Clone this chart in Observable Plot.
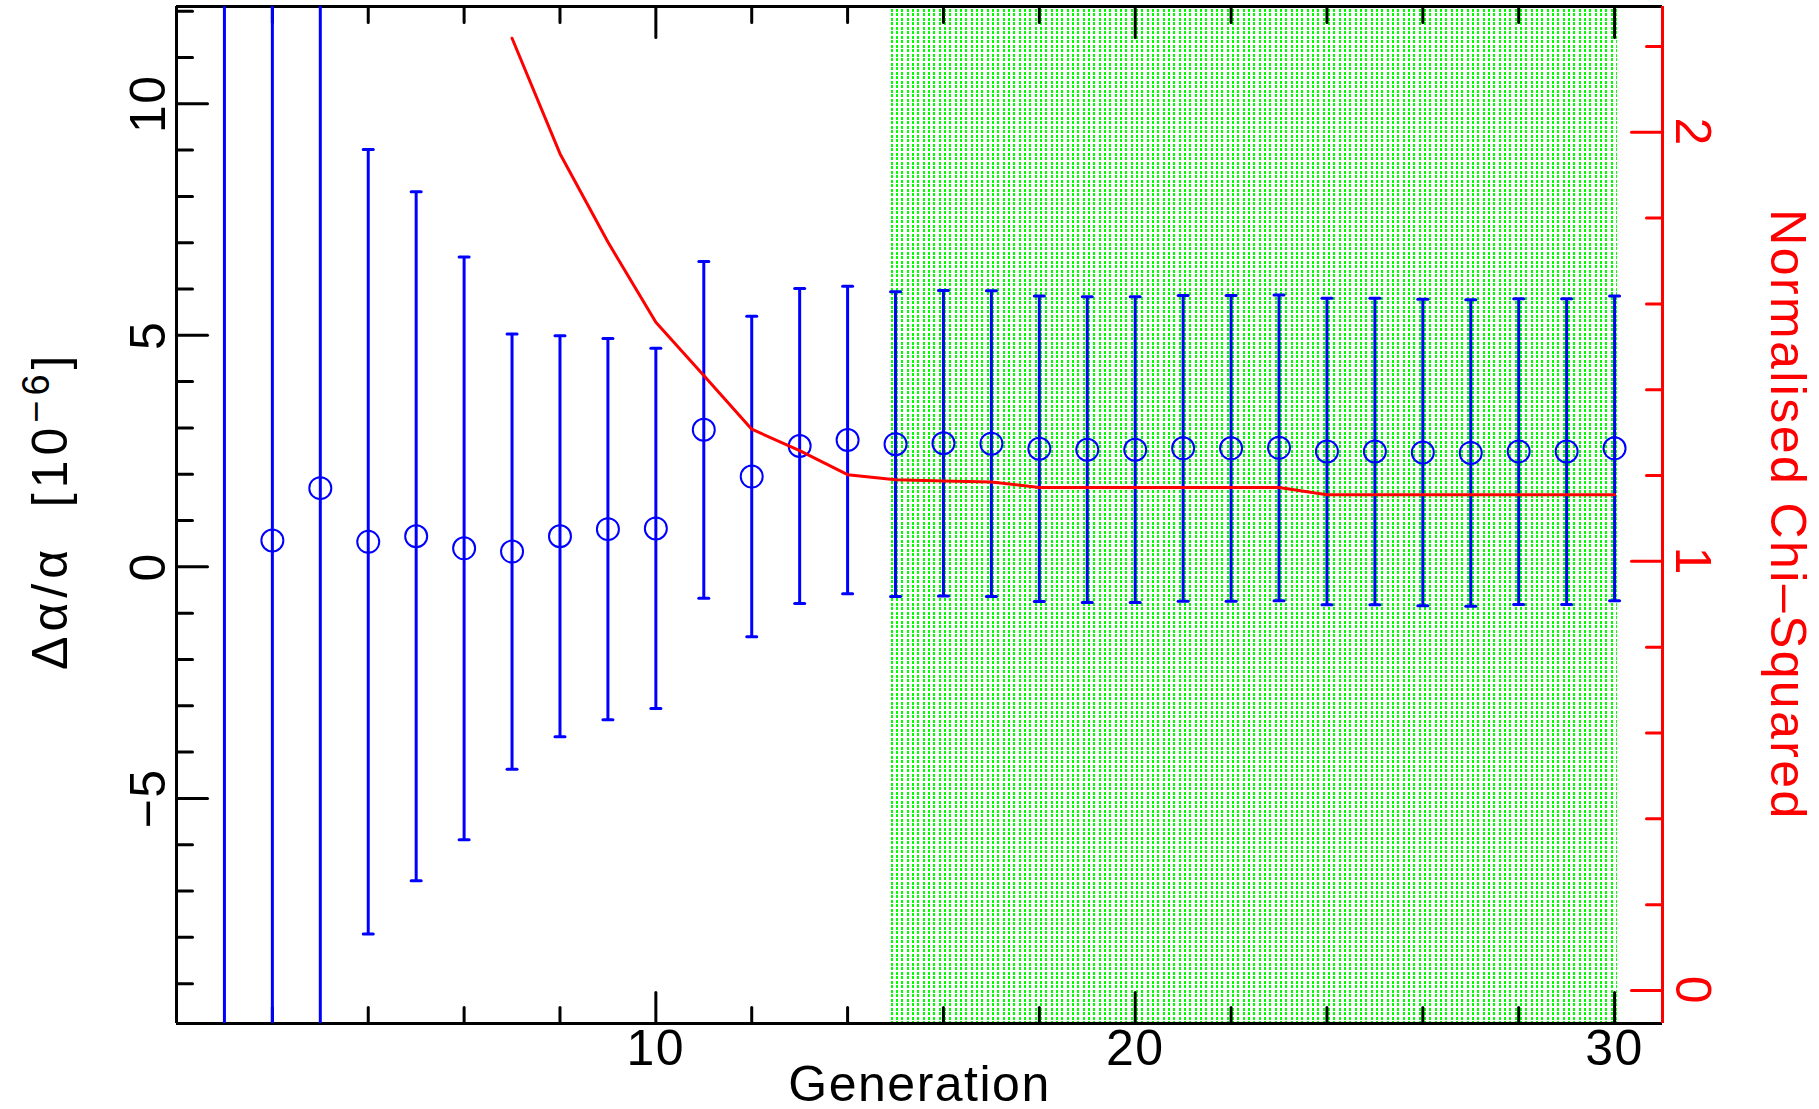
<!DOCTYPE html>
<html>
<head>
<meta charset="utf-8">
<script src="https://cdn.jsdelivr.net/npm/d3@7"></script>
<script src="https://cdn.jsdelivr.net/npm/@observablehq/plot@0.6"></script>
<style>
  html, body { margin: 0; padding: 0; background: #fff; overflow: hidden; }
  #chart svg text { letter-spacing: 1.5px; }
</style>
</head>
<body>
<div id="chart"></div>
<script>
// Generations of the fit
const generations = [1, 2, 3, 4, 5, 6, 7, 8, 9, 10, 11, 12, 13, 14, 15,
                     16, 17, 18, 19, 20, 21, 22, 23, 24, 25, 26, 27, 28, 29, 30];

// Δα/α best-fit value per generation (units of 1e-6); generation 1 lies above the plotted range
const deltaAlpha = [15.0, 0.57, 1.70, 0.54, 0.66, 0.40, 0.33, 0.66, 0.815, 0.83,
                    2.96, 1.95, 2.61, 2.74, 2.65, 2.67, 2.66, 2.55, 2.53, 2.53,
                    2.56, 2.56, 2.57, 2.49, 2.49, 2.47, 2.46, 2.49, 2.49, 2.56];

// 1-sigma uncertainty on Δα/α (units of 1e-6)
const deltaAlphaErr = [40, 30, 20, 8.47, 7.44, 6.29, 4.70, 4.33, 4.115, 3.89,
                       3.635, 3.46, 3.40, 3.32, 3.29, 3.30, 3.30, 3.30, 3.30, 3.30,
                       3.30, 3.30, 3.30, 3.31, 3.31, 3.31, 3.31, 3.30, 3.30, 3.29];

// Normalised chi-squared of the fit (only from generation 7 onwards)
const chiSquared = [null, null, null, null, null, null,
                    2.219, 1.950, 1.744, 1.557, 1.433, 1.308, 1.258, 1.202,
                    1.190, 1.187, 1.185, 1.172, 1.172, 1.172, 1.172, 1.172, 1.172,
                    1.155, 1.155, 1.155, 1.155, 1.155, 1.155, 1.155];

// Generations highlighted as the converged regime
const convergedRange = [[14.87, 30.06]];

// Axis extents and ticks
const xDomain = [0, 31];
const yDomain = [-9.86, 12.10];
const chiDomain = [-0.077, 2.293];

const xMajorTicks = [10, 20, 30];
const xMinorTicks = [2, 4, 6, 8, 12, 14, 16, 18, 22, 24, 26, 28];
const yMajorTicks = [-5, 0, 5, 10];
const yMinorTicks = [-9, -8, -7, -6, -4, -3, -2, -1, 1, 2, 3, 4, 6, 7, 8, 9, 11, 12];
const chiMajorTicks = [0, 1, 2];
const chiMinorTicks = [0.2, 0.4, 0.6, 0.8, 1.2, 1.4, 1.6, 1.8, 2.2];

const rows = generations.map((g, i) => ({
  gen: g,
  delta: deltaAlpha[i],
  err: deltaAlphaErr[i],
  chi: chiSquared[i]
}));

// The chi-squared axis shares the plot height: map its values onto the Δα/α scale
const chiToY = d3.scaleLinear().domain(chiDomain).range(yDomain);

const fmt = d => (d < 0 ? "\u2212" + Math.abs(d) : String(d));

// Inward-pointing tick marks and error-bar caps
const tickShape = { draw(ctx, l) { ctx.moveTo(0, 0); ctx.lineTo(0, -l); } };
const capSymbol = { draw(ctx) { ctx.moveTo(-5, 0); ctx.lineTo(5, 0); } };
const MAJOR = 31, MINOR = 16;

const ticks = (values, len, opts) =>
  Plot.vector(values, { length: len, anchor: "start", shape: tickShape, strokeWidth: 3, ...opts });

// centred text regardless of the frame anchor used to place it
const label = (data, opts) =>
  Plot.text(data, { textAnchor: "middle", lineAnchor: "middle", ...opts });

const svg = Plot.plot({
  width: 1819,
  height: 1109,
  marginLeft: 176,
  marginRight: 157,
  marginTop: 6,
  marginBottom: 86,
  x: { domain: xDomain, axis: null },
  y: { domain: yDomain, axis: null },
  style: {
    fontFamily: "'Liberation Sans', Arial, sans-serif",
    fontSize: "50px",
    background: "white",
    color: "black",
    overflow: "visible"
  },
  marks: [
    // shaded converged region
    Plot.rect(convergedRange, { x1: d => d[0], x2: d => d[1], fill: "url(#green-dots)" }),

    // bottom and top ticks
    ticks(xMajorTicks, MAJOR, { x: d => d, frameAnchor: "bottom", rotate: 0, stroke: "black" }),
    ticks(xMinorTicks, MINOR, { x: d => d, frameAnchor: "bottom", rotate: 0, stroke: "black" }),
    ticks(xMajorTicks, MAJOR, { x: d => d, frameAnchor: "top", rotate: 180, stroke: "black" }),
    ticks(xMinorTicks, MINOR, { x: d => d, frameAnchor: "top", rotate: 180, stroke: "black" }),
    // left ticks
    ticks(yMajorTicks, MAJOR, { y: d => d, frameAnchor: "left", rotate: 90, stroke: "black" }),
    ticks(yMinorTicks, MINOR, { y: d => d, frameAnchor: "left", rotate: 90, stroke: "black" }),

    // frame
    Plot.ruleY([yDomain[0], yDomain[1]], { stroke: "black", strokeWidth: 3 }),
    Plot.ruleX([xDomain[0]], { stroke: "black", strokeWidth: 3 }),

    // error bars, caps and best-fit values
    Plot.ruleX(rows, { x: "gen", y1: d => d.delta - d.err, y2: d => d.delta + d.err,
                       stroke: "#0000ff", strokeWidth: 3, clip: true }),
    Plot.dot(rows, { x: "gen", y: d => d.delta + d.err, symbol: capSymbol, fill: "none",
                     stroke: "#0000ff", strokeWidth: 3, strokeLinecap: "round", clip: true }),
    Plot.dot(rows, { x: "gen", y: d => d.delta - d.err, symbol: capSymbol, fill: "none",
                     stroke: "#0000ff", strokeWidth: 3, strokeLinecap: "round", clip: true }),
    Plot.dot(rows, { x: "gen", y: "delta", r: 11, fill: "none", stroke: "#0000ff",
                     strokeWidth: 2, clip: true }),

    // normalised chi-squared
    Plot.line(rows, { x: "gen", y: d => (d.chi == null ? NaN : chiToY(d.chi)),
                      stroke: "#ff0000", strokeWidth: 3 }),

    // right (chi-squared) axis
    Plot.ruleX([xDomain[1]], { stroke: "#ff0000", strokeWidth: 3 }),
    ticks(chiMajorTicks, MAJOR, { y: d => chiToY(d), frameAnchor: "right", rotate: -90, stroke: "#ff0000" }),
    ticks(chiMinorTicks, MINOR, { y: d => chiToY(d), frameAnchor: "right", rotate: -90, stroke: "#ff0000" }),

    // tick labels
    label(xMajorTicks, { x: d => d, frameAnchor: "bottom", dy: 25, text: fmt, fill: "black" }),
    label(yMajorTicks, { y: d => d, frameAnchor: "left", dx: -28, rotate: -90, text: fmt, fill: "black" }),
    label(chiMajorTicks, { y: d => chiToY(d), frameAnchor: "right", dx: 29, rotate: 90, text: fmt, fill: "#ff0000" }),

    // axis titles
    label(["Generation"], { frameAnchor: "bottom", dy: 61, text: d => d, fill: "black" }),
    label(["Normalised Chi\u2013Squared"], { frameAnchor: "right", dx: 124, rotate: 90,
                                             text: d => d, fill: "#ff0000" })
  ]
});

const root = d3.select(svg);

// wider tracking on the right-hand title
root.selectAll("text")
  .filter(function () { return this.textContent === "Normalised Chi\u2013Squared"; })
  .style("letter-spacing", "2.4px");

// dotted green fill pattern (three columns and two rows of dots per tile)
const pattern = root.insert("defs", ":first-child")
  .append("pattern")
  .attr("id", "green-dots")
  .attr("patternUnits", "userSpaceOnUse")
  .attr("width", 16)
  .attr("height", 9);
for (const px of [0, 5, 11]) {
  for (const py of [0, 4]) {
    pattern.append("rect").attr("x", px).attr("y", py)
      .attr("width", 2).attr("height", 3).attr("fill", "#00ff00");
  }
}

// left axis title with superscript exponent
const title = root.append("text")
  .attr("transform", "translate(67,512) rotate(-90)")
  .attr("text-anchor", "middle")
  .attr("font-size", 50)
  .attr("fill", "black")
  .attr("textLength", 316)
  .attr("lengthAdjust", "spacing");
title.append("tspan").text("\u0394\u03b1/\u03b1  [10");
title.append("tspan").attr("dy", -18).attr("font-size", 38).text("\u22126");
title.append("tspan").attr("dy", 18).text("]");

document.getElementById("chart").appendChild(svg);
</script>
</body>
</html>
